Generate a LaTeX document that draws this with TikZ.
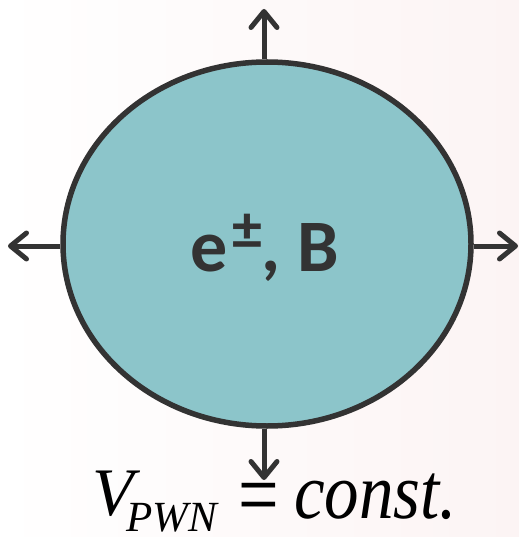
\documentclass[tikz,border=0pt]{standalone}
\usepackage{fontspec}
\setmainfont{Liberation Serif}
\newfontfamily\carlito{Carlito}
\usetikzlibrary{arrows.meta,shapes.geometric}
\definecolor{bubble}{HTML}{8CC5CA}
\definecolor{ink}{HTML}{333333}
\definecolor{bgright}{HTML}{FCF4F4}
\tikzset{
  outarrow/.style={draw=ink, line width=5pt, -{Straight Barb[length=16pt,width=26pt,line cap=round,line join=round]}},
  bubblestyle/.style={ellipse, draw=ink, line width=5.5pt, fill=bubble, minimum width=408pt, minimum height=364pt, inner sep=0pt},
  eqtext/.style={inner sep=0pt, text=black}
}
\begin{document}
\begin{tikzpicture}[x=1pt,y=-1pt]
\useasboundingbox (0,0) rectangle (519,537);
\shade[left color=white, right color=bgright] (0,0) rectangle (519,537);
\node[bubblestyle] (pwn) at (267,244) {};
\coordinate (tn) at (264,9);
\coordinate (ts) at (264,480);
\coordinate (tw) at (8,246);
\coordinate (te) at (518,246);
\draw[outarrow] (pwn.north -| tn) -- (tn);
\draw[outarrow] (pwn.south -| ts) -- (ts);
\draw[outarrow] (pwn.west |- tw) -- (tw);
\draw[outarrow] (pwn.east |- te) -- (te);
\node[text=ink, inner sep=0pt] (lbl) at (265,248) {\carlito\bfseries\fontsize{74}{74}\selectfont e\kern4pt\raisebox{0.3em}{\fontsize{60}{60}\selectfont ±}, B};
\node[eqtext, anchor=base west] (vsym) at (92,515) {\fontsize{68}{68}\selectfont\itshape V};
\node[eqtext, anchor=base west] (vsub) at (126,531) {\fontsize{43}{43}\selectfont\itshape PWN};
\node[eqtext] (eq) at (259,505) {\scalebox{0.8}[1.05]{\fontsize{90}{90}\selectfont =}};
\node[eqtext, anchor=base west] (cst) at (294,518) {\scalebox{1}[1.15]{\fontsize{69}{69}\selectfont\itshape const.}};
\end{tikzpicture}
\end{document}
